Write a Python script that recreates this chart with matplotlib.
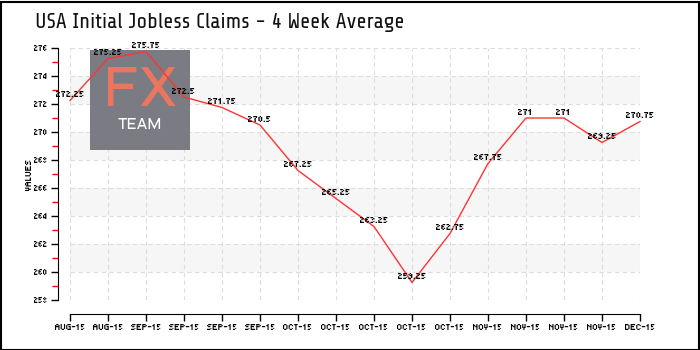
import matplotlib.pyplot as plt
import numpy as np
from matplotlib.patches import Rectangle

# 4 week average of initial jobless claims (thousands)
labels = ["AUG-15", "AUG-15", "SEP-15", "SEP-15", "SEP-15", "SEP-15",
          "OCT-15", "OCT-15", "OCT-15", "OCT-15", "OCT-15",
          "NOV-15", "NOV-15", "NOV-15", "NOV-15", "DEC-15"]
values = [272.25, 275.25, 275.75, 272.5, 271.75, 270.5, 267.25, 265.25,
          263.25, 259.25, 262.75, 267.75, 271, 271, 269.25, 270.75]
value_text = ["272.25", "275.25", "275.75", "272.5", "271.75", "270.5", "267.25",
              "265.25", "263.25", "259.25", "262.75", "267.75", "271", "271",
              "269.25", "270.75"]

PIX = ["Tiny5", "DejaVu Sans"]
W, H = 700, 350
fig = plt.figure(figsize=(7, 3.5), dpi=100)
fig.patch.set_facecolor("white")
fig.patches.append(Rectangle((0.5 / W, 0.5 / H), 1 - 2 / W, 1 - 2 / H,
                             transform=fig.transFigure, fill=False,
                             edgecolor="black", linewidth=1.5))

ax = fig.add_axes([70 / W, (H - 300) / H, 570 / W, 252 / H])
x = np.arange(len(values))
ax.set_xlim(0, len(values) - 1)
ax.set_ylim(258, 276)

# alternating bands
for y0 in range(260, 276, 4):
    ax.axhspan(y0, y0 + 2, color="#f6f6f6", zorder=0, lw=0)

ax.set_yticks(np.arange(258, 277, 2))
ax.set_yticks(np.arange(259, 276, 2), minor=True)
ax.set_xticks(x)
ax.set_xticklabels(labels)
ax.grid(True, which="major", color="#dddddd", linestyle=(0, (4, 3)), linewidth=0.8)
ax.set_axisbelow(True)

for s in ["top", "right"]:
    ax.spines[s].set_visible(False)
ax.spines["left"].set_position(("outward", 9))
ax.spines["bottom"].set_position(("outward", 10))
ax.tick_params(axis="both", which="major", labelsize=6.5, length=5, width=1,
               direction="out", color="black", pad=2)
ax.tick_params(axis="y", which="minor", length=4, width=1, color="#ff0000")
for lab in ax.get_xticklabels() + ax.get_yticklabels():
    lab.set_family(PIX)
ax.set_ylabel("VALUES", fontsize=6.5, labelpad=1, family=PIX)

# logo block, placed in figure pixels but drawn inside the plot layer
ax.add_patch(Rectangle((90 / W, (H - 150) / H), 100 / W, 100 / H,
                       transform=fig.transFigure, facecolor="#7b7c83",
                       edgecolor="none", zorder=2, clip_on=False))
ax.text(140 / W, (H - 92) / H, "FX", color="#ec7560", fontsize=40,
        ha="center", va="center", transform=fig.transFigure, zorder=2.1,
        family=["Aldrich", "DejaVu Sans"])
ax.text(140 / W, (H - 125) / H, "TEAM", color="white", fontsize=11,
        ha="center", va="center", transform=fig.transFigure, zorder=2.1,
        family=["Aldrich", "DejaVu Sans"])

ax.plot(x, values, color="#ff3333", linewidth=1, zorder=3, clip_on=False)
for xi, v, t in zip(x, values, value_text):
    ax.annotate(t, (xi, v), xytext=(0, 1.5), textcoords="offset points",
                ha="center", va="bottom", fontsize=7.5, zorder=4,
                annotation_clip=False, family=PIX)

fig.text(35 / W, 1 - 22 / H, "USA Initial Jobless Claims - 4 Week Average",
         fontsize=15.5, va="center", ha="left", color="#111111",
         family=["Share Tech", "DejaVu Sans"])

fig.savefig("out.png", dpi=100)
